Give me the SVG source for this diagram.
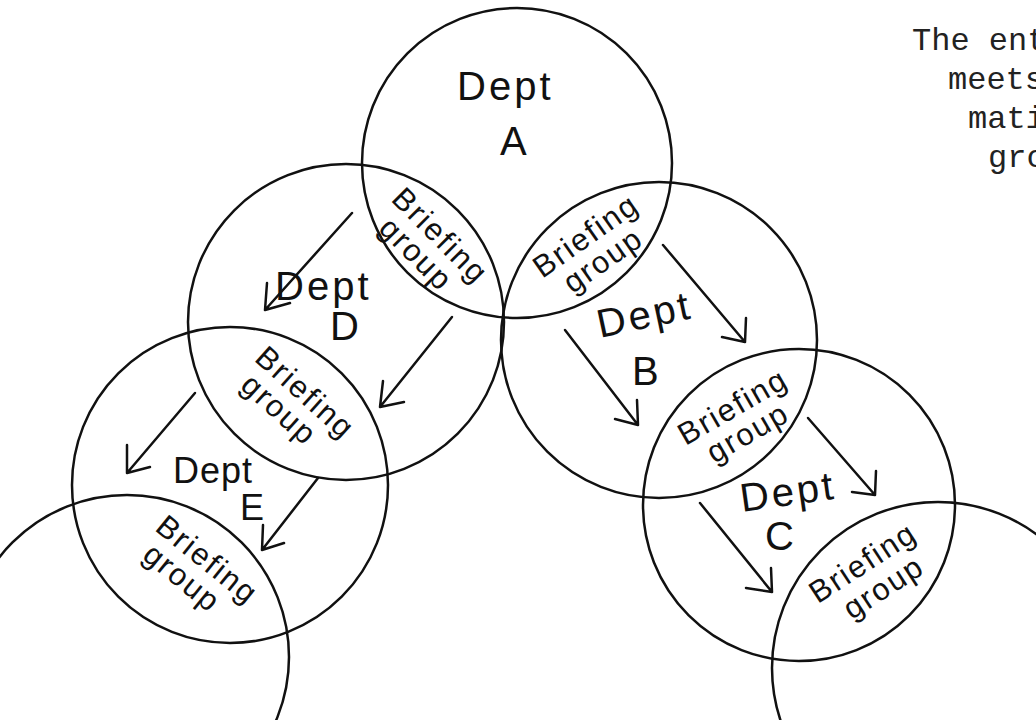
<svg xmlns="http://www.w3.org/2000/svg" width="1036" height="720" viewBox="0 0 1036 720">
<style>
.c{fill:none;stroke:#111;stroke-width:2.5}
.h{font-family:"Liberation Sans","DejaVu Sans",sans-serif;fill:#111;letter-spacing:3px}
.d{font-size:40px}
.s{font-size:36px;letter-spacing:1px}
.b{font-size:31px;letter-spacing:2px;text-anchor:middle}
.t{font-family:"Liberation Mono","DejaVu Sans Mono",monospace;font-size:32px;fill:#222}
.a{fill:none;stroke:#111;stroke-width:2.5;stroke-linecap:round;stroke-linejoin:round}
</style>
<rect width="1036" height="720" fill="#fff"/>
<g id="dept-a"><circle class="c" cx="517" cy="163" r="155"/><text class="h d" x="457" y="100">Dept</text><text class="h d" x="500" y="155">A</text></g>
<g id="dept-b"><circle class="c" cx="659" cy="340" r="158"/><text class="h d" x="600" y="338" transform="rotate(-12 600 338)">Dept</text><text class="h d" x="632" y="385">B</text></g>
<g id="dept-c"><circle class="c" cx="799" cy="505" r="156"/><text class="h d" x="742" y="512" transform="rotate(-8 742 512)">Dept</text><text class="h d" x="765" y="550">C</text></g>
<g id="dept-d"><circle class="c" cx="346" cy="322" r="158"/><text class="h d" x="275" y="300">Dept</text><text class="h d" x="330" y="340">D</text></g>
<g id="dept-e"><circle class="c" cx="230" cy="485" r="158"/><text class="h s" x="173" y="483">Dept</text><text class="h s" x="240" y="520">E</text></g>
<g id="dept-f"><circle class="c" cx="127" cy="657" r="162"/></g>
<g id="dept-g"><circle class="c" cx="938" cy="668" r="166"/></g>
<g id="briefing-ad" transform="translate(440 236) rotate(45)"><text class="h b" x="0" y="10">Briefing</text><text class="h b" x="-4" y="40">group</text></g>
<g id="briefing-ab" transform="translate(586 236) rotate(-35)"><text class="h b" x="0" y="10">Briefing</text><text class="h b" x="0" y="40">group</text></g>
<g id="briefing-de" transform="translate(305 393) rotate(42)"><text class="h b" x="0" y="10">Briefing</text><text class="h b" x="-8" y="40">group</text></g>
<g id="briefing-bc" transform="translate(733 407) rotate(-30)"><text class="h b" x="0" y="10">Briefing</text><text class="h b" x="0" y="40">group</text></g>
<g id="briefing-ef" transform="translate(207 560) rotate(39)"><text class="h b" x="0" y="10">Briefing</text><text class="h b" x="-8" y="40">group</text></g>
<g id="briefing-cg" transform="translate(863 563) rotate(-33)"><text class="h b" x="0" y="10">Briefing</text><text class="h b" x="4" y="42">group</text></g>
<g id="note"><text class="t" x="912" y="50">The ent</text><text class="t" x="948" y="89">meets</text><text class="t" x="968" y="128">mati</text><text class="t" x="988" y="167">gro</text></g>
<g id="connectors">
<path class="a" d="M352 213L265 310M267 283L265 310L290 303"/>
<path class="a" d="M452 317L380 407M383 381L380 407L404 402"/>
<path class="a" d="M195 393L127 473M127 445L127 473L150 467"/>
<path class="a" d="M318 478L262 550M263 525L262 550L284 543"/>
<path class="a" d="M565 330L638 425M637 400L638 425L615 419"/>
<path class="a" d="M663 245L745 342M746 318L745 342L722 337"/>
<path class="a" d="M700 503L772 592M771 568L772 592L746 588"/>
<path class="a" d="M808 418L875 495M876 471L875 495L852 492"/>
</g>
</svg>
